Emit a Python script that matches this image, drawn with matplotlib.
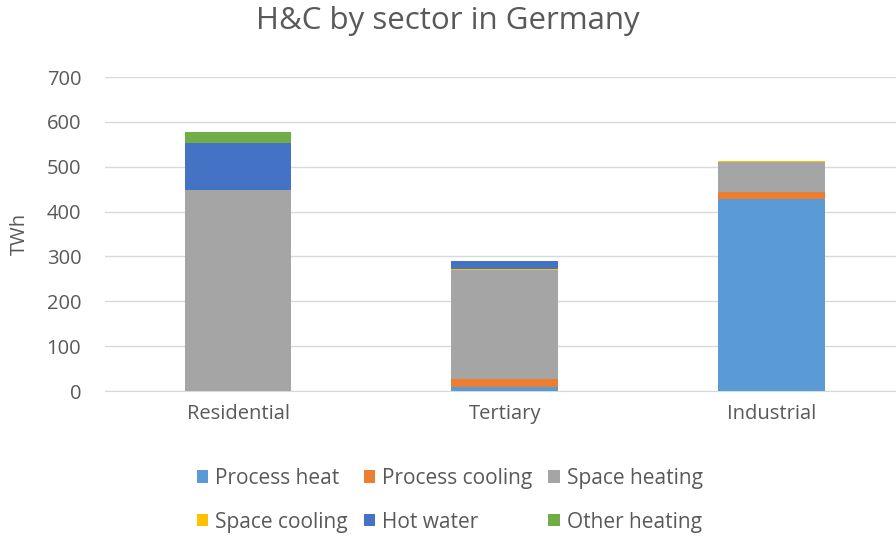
import matplotlib
matplotlib.use("Agg")
import matplotlib.pyplot as plt
import numpy as np

# ── Data (TWh) ────────────────────────────────────────────────────────────────

sectors = ["Residential", "Tertiary", "Industrial"]

process_heat    = [0, 9, 427]
process_cooling = [0, 17, 17]
space_heating   = [448, 244, 66]
space_cooling   = [0, 2, 2]
hot_water       = [104, 18, 0]
other_heating   = [26, 0, 0]

series = [
    ("Process heat",    process_heat,    "#5B9BD5"),
    ("Process cooling", process_cooling, "#ED7D31"),
    ("Space heating",   space_heating,   "#A5A5A5"),
    ("Space cooling",   space_cooling,   "#FFC000"),
    ("Hot water",       hot_water,       "#4472C4"),
    ("Other heating",   other_heating,   "#70AD47"),
]

TEXT = "#595959"
GRID = "#D9D9D9"

plt.rcParams["font.family"] = ["Open Sans", "DejaVu Sans"]

fig = plt.figure(figsize=(8.96, 5.36), dpi=100)
ax = fig.add_axes([0.117, 0.2705, 0.883, 0.5858])

x = np.arange(len(sectors))
bottom = np.zeros(len(sectors))
handles = {}
for name, vals, color in series:
    vals = np.array(vals, dtype=float)
    bars = ax.bar(x, vals, width=0.4, bottom=bottom, color=color,
                  label=name, zorder=3)
    handles[name] = bars
    bottom += vals

ax.set_xlim(-0.5, 2.467)
ax.set_ylim(0, 700)
ax.set_yticks(range(0, 701, 100))
ax.set_xticks(x)
ax.set_xticklabels(sectors)
ax.tick_params(axis="both", length=0, labelsize=14.5, labelcolor=TEXT)
ax.tick_params(axis="x", pad=9)
ax.tick_params(axis="y", pad=17)

ax.grid(axis="y", color=GRID, linewidth=1, zorder=0)
for side in ("top", "right", "left"):
    ax.spines[side].set_visible(False)
ax.spines["bottom"].set_color(GRID)

ax.set_ylabel("TWh", fontsize=14.5, color=TEXT)
ax.yaxis.set_label_coords(-0.095, 0.5)

fig.suptitle("H&C by sector in Germany", fontsize=22.5, color=TEXT, y=0.988)

# legend fills column-wise, so interleave to get row order
order = ["Process heat", "Space cooling", "Process cooling",
         "Hot water", "Space heating", "Other heating"]
fig.legend([handles[n] for n in order], order, ncol=3,
           loc="center", bbox_to_anchor=(0.502, 0.067),
           frameon=False, fontsize=15, labelcolor=TEXT,
           handlelength=0.55, handleheight=0.55, handletextpad=0.35,
           columnspacing=0.75, labelspacing=1.1)

fig.savefig("out.png", dpi=100)
